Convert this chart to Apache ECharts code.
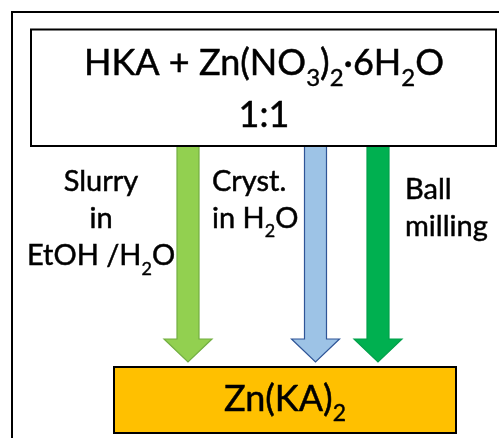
<!DOCTYPE html>
<html>
<head>
<meta charset="utf-8">
<script src="https://cdn.jsdelivr.net/npm/echarts@6/dist/echarts.min.js"></script>
<style>
  html, body { margin: 0; padding: 0; background: #fff; }
  #chart { width: 499px; height: 438px; }
</style>
</head>
<body>
<div id="chart"></div>
<script>
// diagram units are picture pixels, y grows downward (inverse y axis)
const reactants = ['HKA + Zn(NO_3)_2·6H_2O', '1:1']
const product = ['Zn(KA)_2']
const methods = [['Slurry', 'in', 'EtOH /H_2O'], ['Cryst.', 'in H_2O'], ['Ball', 'milling']]

// boxes: [x0, y0, x1, y1] -> outer frame, reactant box, product box
const boxes = [
  [12, 12, 540, 480],
  [31, 29.5, 496, 146],
  [114, 367, 456, 433]
]
// arrows: centre x, start y, tip y
const arrowX = [188, 315.5, 378]
const arrowStart = [146, 146, 146]
const arrowEnd = [362, 362, 362]

// text anchors (block centres)
const reactantAt = [264, 89]
const productAt = [285, 399]
const methodAt = [[101, 219], [212, 200], [405, 208]]

const FONT = 'Lato'
const boxFill = ['none', '#fff', '#FFC000']
const arrowFill = ['#92D050', '#9DC3E6', '#00B050']
const arrowStroke = ['#72AE41', '#2F5597', '#00A04A']
const methodAlign = ['center', 'left', 'left']

// 'H_2O' -> rich text with a subscript token
const toRich = s => s.split(/_(\d)/)
  .map((p, i) => p === '' ? '' : (i % 2 ? '{s|' + p + '}' : '{n|' + p + '}'))
  .join('')

// subBox = height of the subscript token box, sits on the bottom of the line
const textStyle = (lines, align, size, lineH, subSize, subBox) => ({
  text: lines.map(toRich).join('\n'),
  align: align,
  verticalAlign: 'middle',
  fill: '#000',
  fontFamily: FONT,
  fontSize: size,
  lineHeight: lineH,
  rich: {
    n: { fontFamily: FONT, fontSize: size, lineHeight: lineH, verticalAlign: 'middle', fill: '#000', stroke: '#000', lineWidth: 0.5 },
    s: { fontFamily: FONT, fontSize: subSize, lineHeight: lineH, height: subBox, verticalAlign: 'bottom', fill: '#000', stroke: '#000', lineWidth: 0.4 }
  }
})

const texts = [
  { pos: reactantAt, style: textStyle(reactants, 'center', 36, 52, 24, 21) },
  { pos: productAt, style: textStyle(product, 'center', 36, 44, 23, 14) }
].concat(methods.map((m, i) => ({
  pos: methodAt[i], style: textStyle(m, methodAlign[i], 29, 37, 18, 11)
})))

const chart = echarts.init(document.getElementById('chart'))

const option = {
  animation: false,
  grid: { left: 0, right: 0, top: 0, bottom: 0 },
  xAxis: { type: 'value', min: 0, max: 499, show: false },
  yAxis: { type: 'value', min: 0, max: 438, inverse: true, show: false },
  series: [
    {
      type: 'custom',
      clip: false,
      silent: true,
      data: arrowX.map((x, i) => [x, arrowStart[i], arrowEnd[i]]),
      renderItem: (params, api) => {
        const top = api.coord([api.value(0), api.value(1)])
        const tip = api.coord([api.value(0), api.value(2)])
        const hw = 11, headW = 24, headH = 23
        const cx = top[0], hy = tip[1] - headH
        return {
          type: 'polygon',
          shape: {
            points: [
              [cx - hw, top[1]], [cx + hw, top[1]], [cx + hw, hy], [cx + headW, hy],
              [cx, tip[1]], [cx - headW, hy], [cx - hw, hy]
            ]
          },
          style: { fill: arrowFill[params.dataIndex], stroke: arrowStroke[params.dataIndex], lineWidth: 1.2 }
        }
      }
    },
    {
      type: 'custom',
      clip: false,
      silent: true,
      data: boxes,
      renderItem: (params, api) => {
        const p0 = api.coord([api.value(0), api.value(1)])
        const p1 = api.coord([api.value(2), api.value(3)])
        return {
          type: 'rect',
          shape: { x: p0[0], y: p0[1], width: p1[0] - p0[0], height: p1[1] - p0[1] },
          style: { fill: boxFill[params.dataIndex], stroke: '#000', lineWidth: 2 }
        }
      }
    },
    {
      type: 'custom',
      clip: false,
      silent: true,
      data: texts.map(t => t.pos),
      renderItem: (params, api) => {
        const p = api.coord([api.value(0), api.value(1)])
        return { type: 'text', x: p[0], y: p[1], style: texts[params.dataIndex].style }
      }
    }
  ]
}

chart.setOption(option)
</script>
</body>
</html>
